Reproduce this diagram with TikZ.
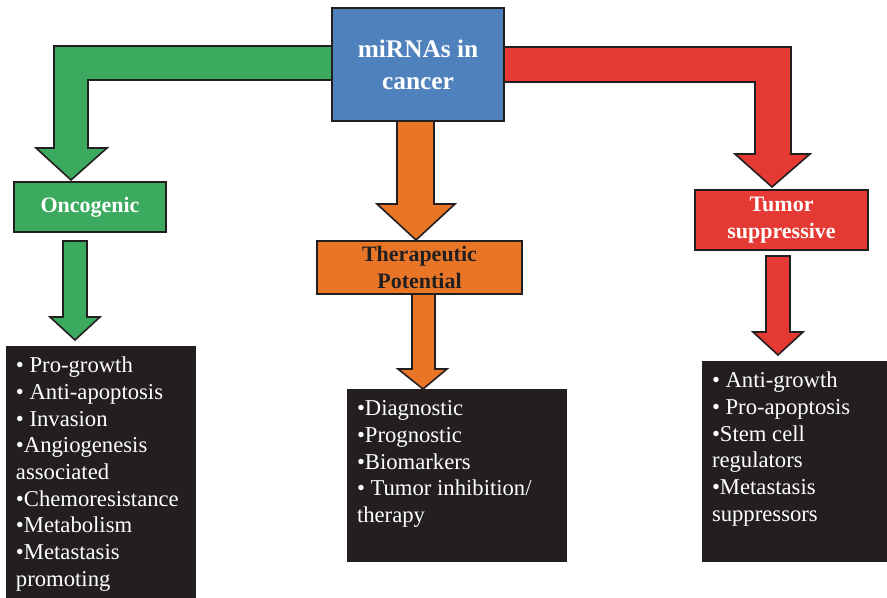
\documentclass[tikz,border=0pt]{standalone}
\usepackage{fontspec}
\setmainfont{Liberation Serif}
\usetikzlibrary{backgrounds}

\definecolor{mirblue}{RGB}{79,129,189}
\definecolor{oncogreen}{RGB}{59,170,94}
\definecolor{theraorange}{RGB}{232,118,38}
\definecolor{tumorred}{RGB}{229,57,51}
\definecolor{listblack}{RGB}{35,31,32}

\tikzstyle{labelbox}=[rectangle, draw=listblack, line width=1.2pt, outer sep=0pt, align=center, font=\fontsize{16.5}{20}\selectfont\bfseries]
\tikzstyle{listbox}=[rectangle, fill=listblack, text=white, anchor=north west, inner xsep=7.5pt, inner ysep=6pt, outer sep=0pt, font=\fontsize{17}{20}\selectfont]
\tikzstyle{blockarrow}=[draw=listblack, line width=1.2pt, line join=miter]

\begin{document}
\begin{tikzpicture}[x=0.75pt, y=-0.75pt]

	\useasboundingbox (0,0) rectangle (887,598);

	% top box and the three headings
	\node (mirna) at (418, 64.5) [labelbox, fill=mirblue, text=white, minimum width=129pt, minimum height=84.75pt, font=\fontsize{19}{24}\selectfont\bfseries] {miRNAs in\\cancer};
	\node (onco) at (90, 207) [labelbox, fill=oncogreen, text=white, minimum width=114pt, minimum height=37.5pt] {Oncogenic};
	\node (thera) at (419.5, 267.5) [labelbox, fill=theraorange, text=listblack, minimum width=153.75pt, minimum height=39.75pt] {Therapeutic\\Potential};
	\node (tumor) at (781.5, 220) [labelbox, fill=tumorred, text=white, minimum width=129.75pt, minimum height=45pt] {Tumor\\suppressive};

	% lists
	\node (oncolist) at (6, 346) [listbox] {\parbox[t][177pt][t]{127.5pt}{\strut• Pro-growth\\• Anti-apoptosis\\• Invasion\\•Angiogenesis\\associated\\•Chemoresistance\\•Metabolism\\•Metastasis\\promoting}};
	\node (theralist) at (347, 389) [listbox] {\parbox[t][117.75pt][t]{150pt}{\strut•Diagnostic\\•Prognostic\\•Biomarkers\\• Tumor inhibition/\\therapy}};
	\node (tumorlist) at (702, 361) [listbox] {\parbox[t][138.75pt][t]{123.75pt}{\strut• Anti-growth\\• Pro-apoptosis\\•Stem cell\\regulators\\•Metastasis\\suppressors}};

	% block arrows
	\begin{scope}[on background layer]
		\draw[blockarrow, fill=oncogreen] (mirna.west) ++(0,-18.5) -- ++(-278,0) -- ++(0,102) -- ++(-18,0) -- ++(35,32) -- ++(36,-32) -- ++(-19,0) -- ++(0,-68) -- ++(244,0) -- cycle;
		\draw[blockarrow, fill=tumorred] (mirna.east) ++(0,-17.5) -- ++(287,0) -- ++(0,107) -- ++(19,0) -- ++(-38,33) -- ++(-37,-33) -- ++(20,0) -- ++(0,-72) -- ++(-251,0) -- cycle;
		\draw[blockarrow, fill=theraorange] (mirna.south) ++(-21,0) -- ++(0,83) -- ++(-20,0) -- ++(39,36) -- ++(39,-36) -- ++(-21,0) -- ++(0,-83) -- cycle;
	\end{scope}
	\draw[blockarrow, fill=oncogreen] (onco.south) ++(-27,9) -- ++(0,76) -- ++(-13,0) -- ++(25,23) -- ++(25,-23) -- ++(-13,0) -- ++(0,-76) -- cycle;
	\draw[blockarrow, fill=theraorange] (thera.south) ++(-7.5,0) -- ++(0,75) -- ++(-14,0) -- ++(25,20) -- ++(24,-20) -- ++(-12,0) -- ++(0,-75) -- cycle;
	\draw[blockarrow, fill=tumorred] (tumor.south) ++(-15.5,6) -- ++(0,76) -- ++(-13,0) -- ++(25,23) -- ++(25,-23) -- ++(-13,0) -- ++(0,-76) -- cycle;

\end{tikzpicture}
\end{document}
